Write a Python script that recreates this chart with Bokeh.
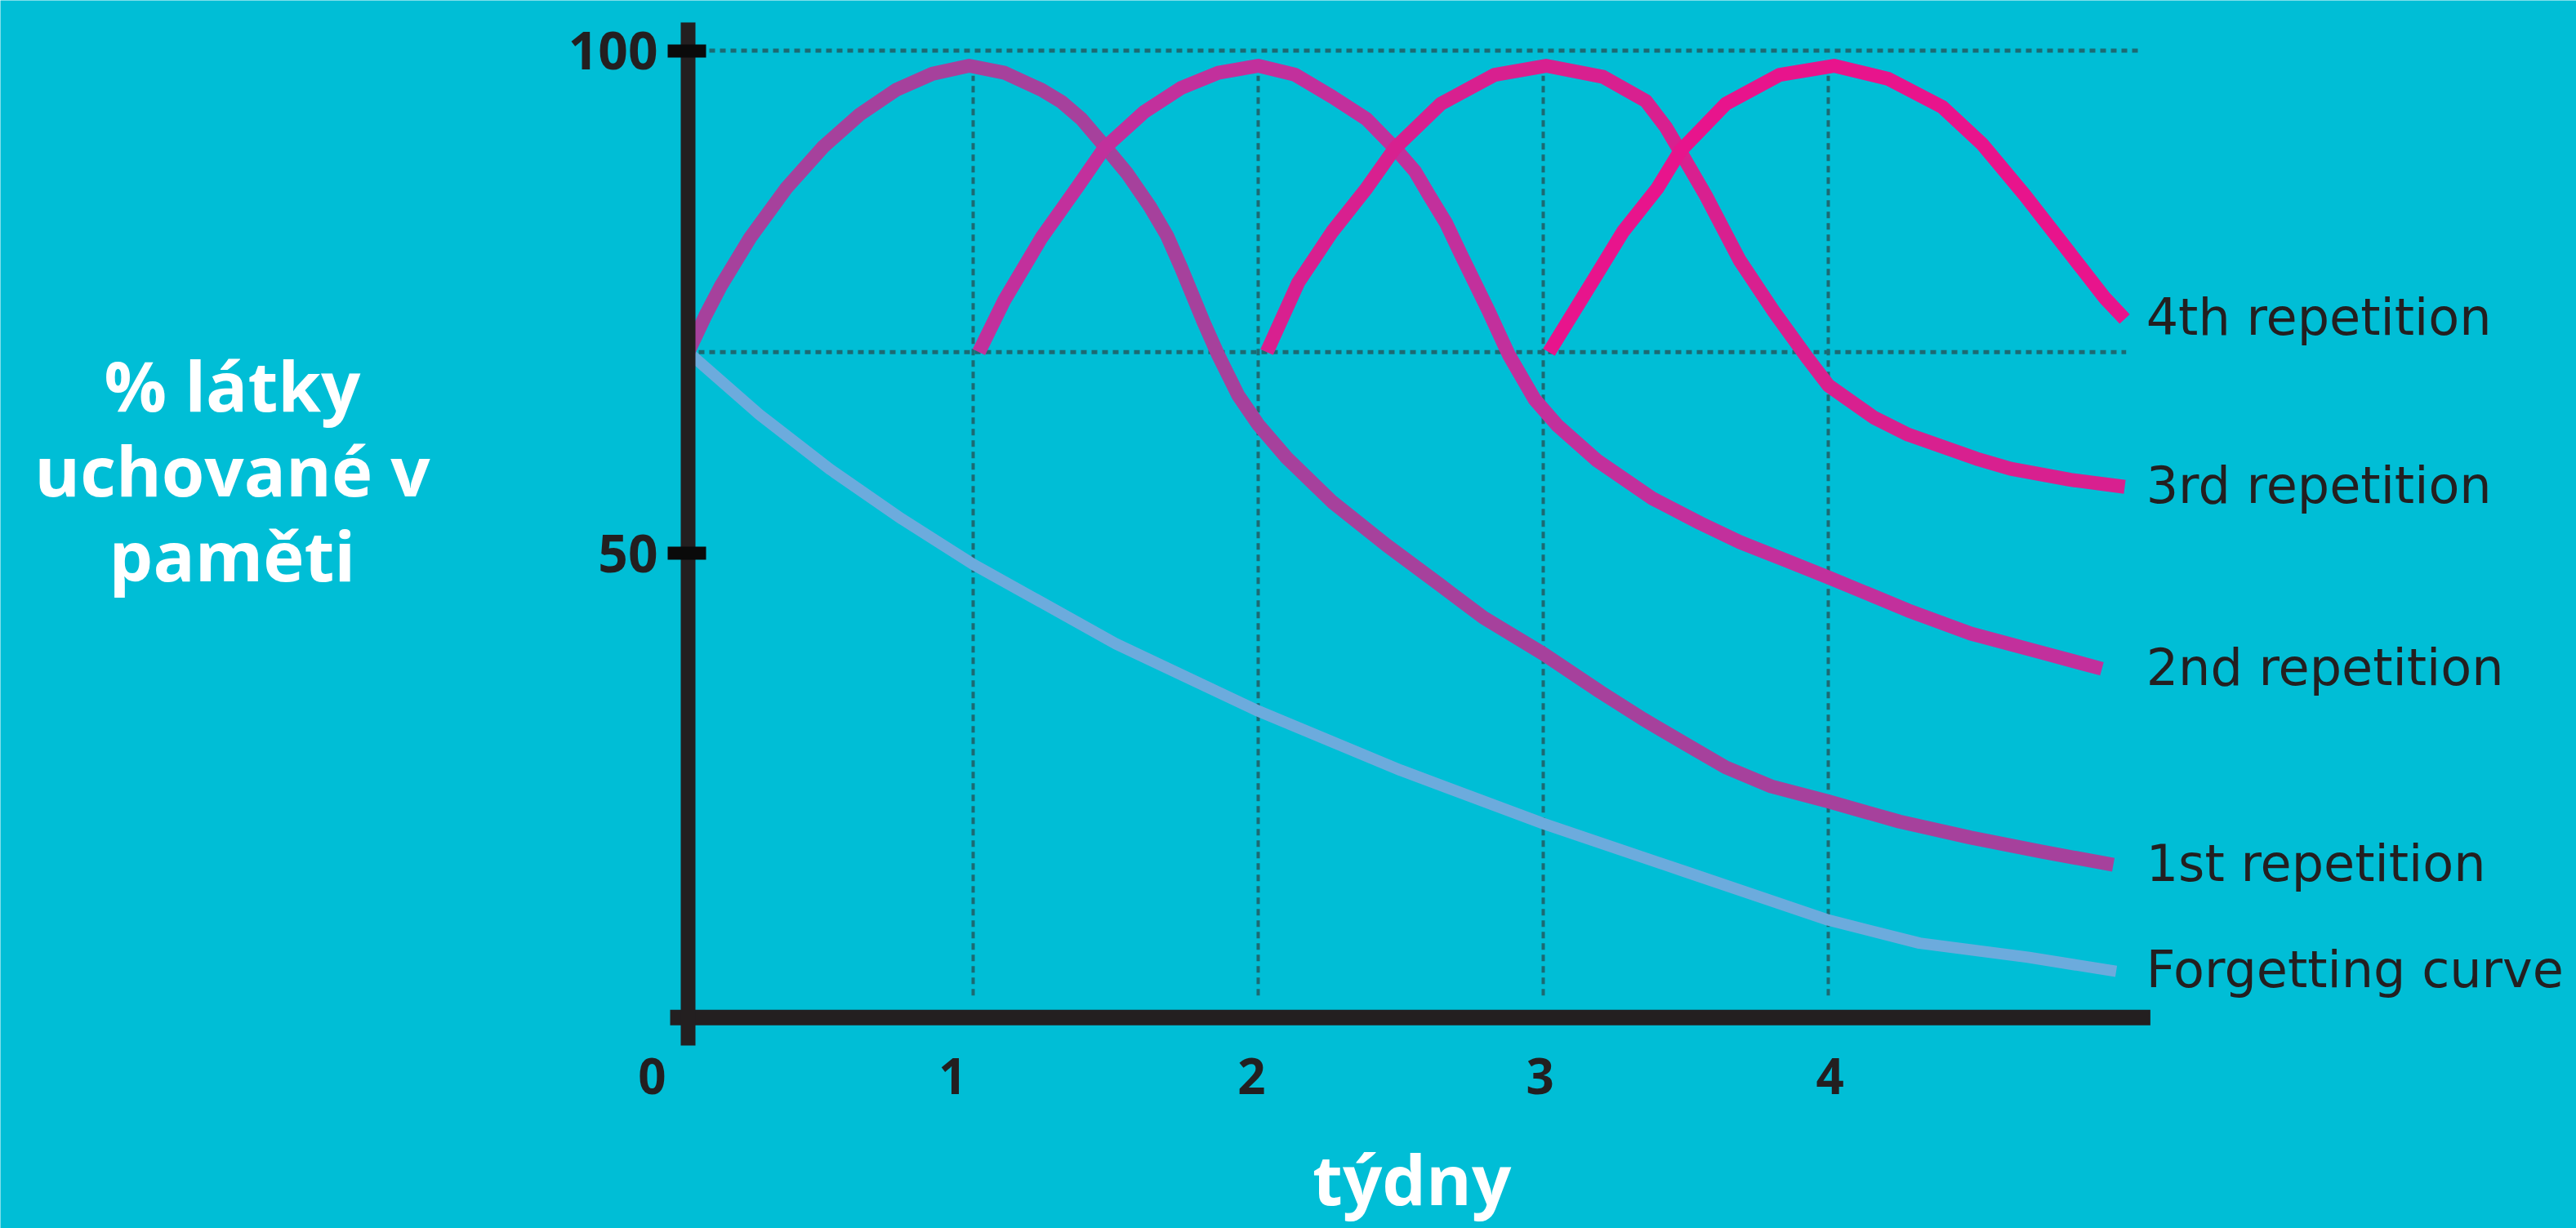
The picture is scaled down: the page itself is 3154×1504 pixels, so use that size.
from bokeh.plotting import figure
from bokeh.models import FixedTicker, Label, ColumnDataSource
from bokeh.embed import file_html
from bokeh.resources import INLINE
from bokeh.core.properties import value

# ---------------- data ----------------
forget_x = [0.0, 0.25, 0.5, 0.75, 1.0, 1.5, 2.0, 2.5, 3.0, 3.5, 4.0, 4.32, 4.7, 5.01]
forget_y = [70.0, 63.8, 58.3, 53.4, 48.9, 41.0, 34.3, 28.4, 23.1, 18.3, 13.5, 11.2, 9.8, 8.4]

rep1_x = [0.0, 0.06, 0.115, 0.218, 0.344, 0.473, 0.60, 0.73, 0.857, 0.986, 1.11, 1.24, 1.31,
          1.38, 1.455, 1.54, 1.62, 1.68, 1.73, 1.81, 1.86, 1.93, 2.0, 2.10, 2.26, 2.45, 2.64,
          2.79, 3.0, 3.2, 3.35, 3.5, 3.64, 3.8, 4.0, 4.25, 4.5, 4.75, 5.0]
rep1_y = [70.0, 73.6, 76.6, 81.4, 86.3, 90.4, 93.6, 96.1, 97.7, 98.5, 97.8, 96.1, 94.9,
          93.2, 90.7, 87.8, 84.5, 81.6, 78.4, 72.9, 69.7, 65.7, 62.8, 59.5, 55.1, 50.8, 46.8,
          43.6, 40.0, 36.2, 33.5, 31.0, 28.7, 26.8, 25.3, 23.3, 21.7, 20.3, 19.0]

rep2_x = [1.02, 1.11, 1.24, 1.31, 1.37, 1.46, 1.60, 1.73, 1.86, 2.0, 2.13, 2.26, 2.38, 2.48,
          2.55, 2.60, 2.66, 2.71, 2.81, 2.88, 2.97, 3.05, 3.19, 3.38, 3.55, 3.69, 3.85, 4.0,
          4.28, 4.5, 4.75, 4.96]
rep2_y = [70.0, 75.2, 81.4, 84.2, 86.6, 90.3, 93.9, 96.3, 97.8, 98.5, 97.6, 95.4, 93.2, 90.3,
          88.0, 85.6, 82.8, 79.8, 74.0, 69.7, 65.3, 62.7, 59.2, 55.5, 53.0, 51.1, 49.3, 47.6,
          44.3, 42.0, 40.1, 38.5]

rep3_x = [2.03, 2.14, 2.26, 2.38, 2.48, 2.64, 2.83, 3.01, 3.21, 3.36, 3.43, 3.48, 3.57, 3.69,
          3.81, 3.93, 4.0, 4.16, 4.28, 4.40, 4.52, 4.64, 4.85, 5.04]
rep3_y = [70.0, 76.9, 82.0, 86.3, 90.3, 94.7, 97.6, 98.5, 97.4, 95.0, 92.4, 90.0, 85.6, 79.1,
          74.0, 69.3, 66.7, 63.5, 61.8, 60.6, 59.4, 58.4, 57.3, 56.6]

rep4_x = [3.02, 3.17, 3.28, 3.40, 3.48, 3.64, 3.83, 4.02, 4.21, 4.40, 4.54, 4.69, 4.83, 4.97, 5.04]
rep4_y = [70.0, 76.9, 82.0, 86.3, 90.0, 94.7, 97.6, 98.5, 97.2, 94.4, 90.7, 85.6, 80.5, 75.4, 73.3]

series_names = ["Forgetting curve", "1st repetition", "2nd repetition", "3rd repetition", "4th repetition"]
series_x = [forget_x, rep1_x, rep2_x, rep3_x, rep4_x]
series_y = [forget_y, rep1_y, rep2_y, rep3_y, rep4_y]

week_tick_labels = ["0", "1", "2", "3", "4"]
y_tick_values = [50, 100]
grid_weeks = [1, 2, 3, 4]
grid_levels = [100, 70]

y_title_lines = ["% látky", "uchované v", "paměti"]
x_title = "týdny"

# ---------------- styling / layout ----------------
BG = "#00BED6"
INK = "#231f20"
DOT = "#1c6a73"
series_colors = ["#6CABDD", "#A6419C", "#C2309C", "#D8208F", "#E8148C"]
series_widths = [14, 17, 17, 17, 17]

week_label_pos = [-0.126, 0.928, 1.977, 2.989, 4.006]
grid_ends_h = [5.09, 5.045]
label_x = 5.115
x_axis_level = 3.8

W, H = 3154, 1504
p = figure(width=W, height=H, output_backend="svg", toolbar_location=None, title=None,
           x_range=(-2.4126, 6.6246), y_range=(-17.18, 105.0),
           min_border_left=0, min_border_right=0, min_border_top=0, min_border_bottom=0,
           background_fill_color=BG, border_fill_color=BG, outline_line_color=None)
p.grid.visible = False

# dotted guide lines
p.segment(x0=grid_weeks, y0=[6.0] * len(grid_weeks), x1=grid_weeks, y1=[97.5] * len(grid_weeks),
          line_color=DOT, line_width=4, line_dash="8 6")
p.segment(x0=[0.0] * len(grid_levels), y0=grid_levels, x1=grid_ends_h, y1=grid_levels,
          line_color=DOT, line_width=5, line_dash="7 6")

# curves
for xs, ys, c, w in zip(series_x, series_y, series_colors, series_widths):
    p.line(xs, ys, line_color=c, line_width=w, line_join="round")

# x axis baseline
p.segment(x0=[-0.063], y0=[x_axis_level], x1=[5.13], y1=[x_axis_level], line_color=INK, line_width=19)

# series labels at the right
lab_src = ColumnDataSource(dict(x=[label_x] * len(series_names),
                                y=[ys[-1] for ys in series_y],
                                t=series_names))
p.text(x="x", y="y", text="t", source=lab_src, text_font=value("DejaVu Sans"),
       text_font_size="62px", text_color=INK, text_align="left", text_baseline="middle",
       y_offset=-2)

# y axis
ya = p.yaxis[0]
ya.fixed_location = 0
ya.bounds = (1.0, 102.8)
ya.ticker = FixedTicker(ticks=y_tick_values)
ya.axis_line_width = 18
ya.axis_line_color = INK
ya.major_tick_in = 22
ya.major_tick_out = 25
ya.major_tick_line_width = 16
ya.major_tick_line_color = "#0a0a0a"
ya.minor_tick_line_color = None
ya.major_label_text_font = "Open Sans"
ya.major_label_text_font_style = "bold"
ya.major_label_text_font_size = "64px"
ya.major_label_text_color = INK
ya.major_label_standoff = 12

# x axis (labels only; line drawn above)
xa = p.xaxis[0]
xa.fixed_location = x_axis_level
xa.ticker = FixedTicker(ticks=week_label_pos)
xa.major_label_overrides = {pos: lab for pos, lab in zip(week_label_pos, week_tick_labels)}
xa.axis_line_color = None
xa.major_tick_line_color = None
xa.minor_tick_line_color = None
xa.major_tick_in = 0
xa.major_tick_out = 0
xa.major_label_text_font = "Open Sans"
xa.major_label_text_font_style = "bold"
xa.major_label_text_font_size = "60px"
xa.major_label_text_color = INK
xa.major_label_standoff = 50

# titles
for txt, yb in zip(y_title_lines, [66.8, 58.35, 49.9]):
    p.add_layout(Label(x=-1.599, y=yb, text=txt, text_font="Open Sans", text_font_style="bold",
                       text_font_size="85px", text_color="white", text_align="center",
                       text_baseline="alphabetic"))
p.add_layout(Label(x=2.539, y=-12.2, text=x_title, text_font="Open Sans", text_font_style="bold",
                   text_font_size="85px", text_color="white", text_align="center",
                   text_baseline="alphabetic"))

open("out.html", "w").write(file_html(p, INLINE))
